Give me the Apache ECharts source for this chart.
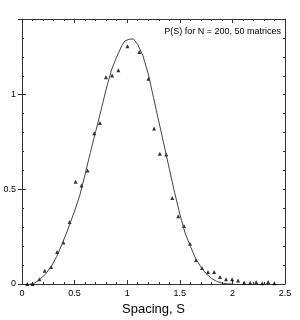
<!DOCTYPE html>
<html><head><meta charset="utf-8">
<script src="https://cdn.jsdelivr.net/npm/echarts@6/dist/echarts.min.js"></script>
<style>html,body{margin:0;padding:0;background:#fff}#c{width:300px;height:320px}</style>
</head><body><div id="c"></div>
<script>
// Theory curve P(S)
const curveS = [0.08,0.12,0.17,0.22,0.28,0.33,0.38,0.43,0.46,0.5,0.55,0.6,0.65,0.7,0.75,0.8,0.85,0.9,0.95,0.98,1.02,1.06,1.1,1.15,1.2,1.25,1.3,1.35,1.4,1.45,1.5,1.55,1.6,1.65,1.7,1.75,1.8,1.85,1.9,1.95,2.0];
const curveP = [0,0.005,0.025,0.05,0.095,0.145,0.21,0.28,0.325,0.385,0.47,0.58,0.695,0.805,0.915,1.03,1.13,1.2,1.26,1.285,1.293,1.295,1.265,1.205,1.11,0.985,0.86,0.735,0.61,0.485,0.37,0.27,0.2,0.135,0.09,0.055,0.03,0.014,0.005,0.001,0];
// Histogram points (triangles)
const histS = [0.05,0.10,0.165,0.216,0.277,0.334,0.394,0.452,0.509,0.566,0.623,0.687,0.741,0.798,0.856,0.916,1.002,1.116,1.202,1.256,1.310,1.371,1.428,1.485,1.540,1.597,1.654,1.711,1.768,1.826,1.883,1.94,1.997,2.054,2.112,2.169,2.226,2.284,2.34,2.398];
const histP = [0,0,0.025,0.07,0.09,0.169,0.219,0.328,0.54,0.52,0.60,0.797,0.85,1.092,1.102,1.129,1.256,1.226,1.085,0.822,0.688,0.684,0.455,0.358,0.307,0.212,0.127,0.085,0.064,0.064,0.037,0.025,0.025,0.018,0.007,0.007,0.009,0.004,0.01,0.004];
const xTickLabels = ['0','0.5','1','1.5','2','2.5'];
const yTickLabels = ['0','0.5','1'];
const titleText = 'P(S) for N = 200, 50 matrices';
const xName = 'Spacing, S';
const yName = 'p(S)';

const FONT = 'Liberation Sans';
const AX = '#333';
const chart = echarts.init(document.getElementById('c'), null, {renderer:'canvas'});
function fmtX(v){ const s = String(Math.round(v*10)/10); return xTickLabels.includes(s) ? s : ''; }
function fmtY(v){ const s = String(Math.round(v*10)/10); return yTickLabels.includes(s) ? s : ''; }
const base = {type:'value', splitLine:{show:false}, axisLine:{show:true, onZero:false, lineStyle:{color:AX,width:1}}};
chart.setOption({
  animation:false,
  title:{text:titleText, right:19, top:27, padding:0, textStyle:{fontFamily:FONT, fontSize:9, fontWeight:'normal', color:'#000'}},
  grid:{left:22, right:15, top:19, bottom:36, containLabel:false, outerBoundsMode:'none'},
  xAxis:[
    Object.assign({}, base, {position:'bottom', min:0, max:2.5, interval:0.5,
      axisTick:{show:true, inside:true, length:4, lineStyle:{color:AX}},
      minorTick:{show:true, splitNumber:5, length:2, lineStyle:{color:AX}},
      axisLabel:{formatter:fmtX, fontFamily:FONT, fontSize:9, color:'#000', margin:5},
      name:xName, nameLocation:'middle', nameGap:12, nameTextStyle:{fontFamily:FONT, fontSize:13, color:'#000'}}),
    Object.assign({}, base, {position:'top', min:0, max:2.5, interval:0.5,
      axisTick:{show:true, inside:true, length:4, lineStyle:{color:AX}},
      minorTick:{show:true, splitNumber:5, length:2, lineStyle:{color:AX}},
      axisLabel:{show:false}})
  ],
  yAxis:[
    Object.assign({}, base, {position:'left', min:0, max:1.4, interval:0.1,
      axisTick:{show:true, inside:true, length:2, lineStyle:{color:AX}},
      axisLabel:{formatter:fmtY, fontFamily:FONT, fontSize:9, color:'#000', margin:6},
      name:yName, nameLocation:'middle', nameRotate:90, nameGap:16, nameTextStyle:{fontFamily:FONT, fontSize:9, color:'#000'}}),
    Object.assign({}, base, {position:'left', offset:0, min:0, max:1.4, interval:0.5,
      axisLine:{show:false}, axisTick:{show:true, inside:true, length:4, lineStyle:{color:AX}}, axisLabel:{show:false}}),
    Object.assign({}, base, {position:'right', offset:0, min:0, max:1.4, interval:0.1,
      axisTick:{show:true, inside:true, length:2, lineStyle:{color:AX}}, axisLabel:{show:false}}),
    Object.assign({}, base, {position:'right', offset:0, min:0, max:1.4, interval:0.5,
      axisLine:{show:false}, axisTick:{show:true, inside:true, length:4, lineStyle:{color:AX}}, axisLabel:{show:false}})
  ],
  series:[
    {type:'line', xAxisIndex:0, yAxisIndex:0, data:curveS.map((s,i)=>[s,curveP[i]]),
      showSymbol:false, lineStyle:{color:'#444', width:1}, silent:true},
    {type:'scatter', xAxisIndex:0, yAxisIndex:0, data:histS.map((s,i)=>[s,histP[i]]),
      symbol:'triangle', symbolSize:4, itemStyle:{color:'#000'}, silent:true}
  ]
});
</script></body></html>
